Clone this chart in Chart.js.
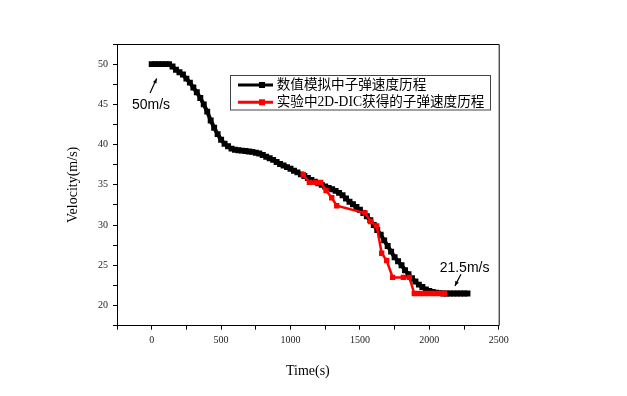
<!DOCTYPE html>
<html>
<head>
<meta charset="utf-8">
<script src="https://cdn.jsdelivr.net/npm/chart.js@4.4.1/dist/chart.umd.min.js"></script>
<style>
  body { margin: 0; background: #fff; }
  #wrap { width: 627px; height: 396px; }
</style>
</head>
<body>
<div id="wrap"><canvas id="chart1"></canvas></div>
<script>
// simulated bullet velocity
let simTime = [0,25,50,75,100,125,150,175,200,225,250,275,300,325,350,375,400,425,450,475,
  500,525,550,575,600,625,650,675,700,725,750,775,800,825,850,875,900,925,950,975,
  1000,1025,1050,1075,1100,1125,1150,1175,1200,1225,1250,1275,1300,1325,1350,1375,1400,1425,1450,1475,
  1500,1525,1550,1575,1600,1625,1650,1675,1700,1725,1750,1775,1800,1825,1850,1875,1900,1925,1950,1975,
  2000,2025,2050,2075,2100,2125,2150,2175,2200,2225,2250,2275];
let simVel = [50,50,50,50,50,50,49.7,49.3,49.0,48.7,48.2,47.7,47.1,46.5,45.8,45.0,44.1,43.0,42.1,41.3,
  40.6,40.1,39.8,39.5,39.35,39.3,39.25,39.2,39.15,39.1,39.0,38.9,38.7,38.5,38.3,38.1,37.85,37.6,37.4,37.2,
  37.0,36.75,36.55,36.3,36.1,35.85,35.6,35.4,35.2,35.0,34.8,34.6,34.45,34.25,34.0,33.7,33.3,32.9,32.6,32.25,
  31.9,31.5,31.1,30.6,30.0,29.4,28.8,28.1,27.4,26.7,26.0,25.5,25.0,24.4,23.9,23.4,23.0,22.6,22.3,22.0,
  21.8,21.7,21.6,21.55,21.5,21.5,21.5,21.5,21.5,21.5,21.5,21.5];

// 2D-DIC measured bullet velocity
let expTime = [1092,1136,1177,1217,1256,1297,1333,1537,1578,1621,1657,1693,1736,1813,1856,
  1892,1928,1964,2000,2036,2072,2108];
let expVel = [36.25,35.3,35.3,35.3,34.3,33.4,32.4,31.5,30.45,29.9,26.5,25.6,23.5,23.5,23.5,
  21.5,21.5,21.5,21.5,21.5,21.5,21.5];

let xTicks = [0, 500, 1000, 1500, 2000, 2500];
let yTicks = [20, 25, 30, 35, 40, 45, 50];

let seriesNames = ['数值模拟中子弹速度历程', '实验中2D-DIC获得的子弹速度历程'];
let seriesColors = ['#000000', '#ff0000'];

let serif = '"Liberation Serif", "Times New Roman", "Noto Sans CJK SC", serif';

function toPoints(xs, ys) {
  return xs.map((x, i) => ({ x: x, y: ys[i] }));
}

function chart1() {
  let ctx = document.getElementById('chart1').getContext('2d');
  let myChart = new Chart(ctx, {
    type: 'line',
    data: {
      datasets: [{
        label: seriesNames[0],
        data: toPoints(simTime, simVel),
        borderColor: seriesColors[0],
        backgroundColor: seriesColors[0],
        borderWidth: 4,
        pointStyle: 'rect',
        pointRadius: 4.2,
        pointBorderWidth: 0,
        tension: 0,
        order: 2
      }, {
        label: seriesNames[1],
        data: toPoints(expTime, expVel),
        borderColor: seriesColors[1],
        backgroundColor: seriesColors[1],
        borderWidth: 2.5,
        pointStyle: 'rect',
        pointRadius: 3.8,
        pointBorderWidth: 0,
        tension: 0,
        order: 1
      }]
    },
    options: {
      responsive: true,
      maintainAspectRatio: false,
      animation: false,
      scales: {
        x: {
          type: 'linear',
          min: -250,
          max: 2500,
          afterFit: (scale) => { scale.height = 70.3; },
          grid: { drawOnChartArea: false, drawTicks: true, tickLength: 4, color: '#000' },
          border: { display: true, color: '#000', width: 1 },
          ticks: {
            stepSize: 250,
            maxRotation: 0,
            autoSkip: false,
            padding: 5,
            color: '#222',
            font: { family: serif, size: 10 },
            callback: (v) => xTicks.includes(v) ? v : ''
          },
          title: {
            display: true,
            text: 'Time(s)',
            color: '#000',
            font: { family: serif, size: 14 },
            padding: { bottom: 16.6 }
          }
        },
        y: {
          type: 'linear',
          min: 17.5,
          max: 52.5,
          afterFit: (scale) => { scale.width = 117; },
          grid: { drawOnChartArea: false, drawTicks: true, tickLength: 4, color: '#000' },
          border: { display: true, color: '#000', width: 1 },
          ticks: {
            stepSize: 2.5,
            autoSkip: false,
            padding: 5,
            color: '#222',
            font: { family: serif, size: 10 },
            callback: (v) => yTicks.includes(v) ? v : ''
          },
          title: {
            display: true,
            text: 'Velocity(m/s)',
            color: '#000',
            font: { family: serif, size: 14 },
            padding: { top: 64.6 }
          }
        }
      },
      plugins: {
        legend: { display: false },
        tooltip: { enabled: false }
      },
      layout: {
        padding: { left: 0, right: 128.3, top: 44, bottom: 0 }
      }
    },
    plugins: [{
      id: 'chart1',
      beforeDraw: (chart) => {
        const ctx = chart.ctx;
        ctx.save();
        ctx.fillStyle = '#fff';
        ctx.fillRect(0, 0, chart.width, chart.height);
        ctx.restore();
      },
      afterDraw: (chart) => {
        const ctx = chart.ctx;
        const a = chart.chartArea;
        const xs = chart.scales.x;
        const ys = chart.scales.y;
        ctx.save();
        // frame top / right
        ctx.strokeStyle = '#000';
        ctx.lineWidth = 1;
        ctx.beginPath();
        ctx.moveTo(a.left, a.top + 0.5);
        ctx.lineTo(a.right + 0.5, a.top + 0.5);
        ctx.lineTo(a.right + 0.5, a.bottom);
        ctx.stroke();

        // legend
        ctx.strokeStyle = '#444';
        ctx.strokeRect(230.5, 75.5, 260, 34.5);
        const rows = [85, 102.3];
        ctx.font = '13.6px ' + serif;
        ctx.textBaseline = 'middle';
        ctx.textAlign = 'left';
        for (let i = 0; i < 2; i++) {
          ctx.strokeStyle = seriesColors[i];
          ctx.fillStyle = seriesColors[i];
          ctx.lineWidth = 3;
          ctx.beginPath();
          ctx.moveTo(238, rows[i]);
          ctx.lineTo(273, rows[i]);
          ctx.stroke();
          ctx.fillRect(259, rows[i] - 3, 6, 6);
          ctx.fillStyle = '#000';
          ctx.fillText(seriesNames[i], 276.7, rows[i] + 0.5);
        }

        // annotations
        ctx.font = '14px "Liberation Sans", Arial, sans-serif';
        ctx.textAlign = 'center';
        ctx.fillStyle = '#000';
        ctx.fillText('50m/s', xs.getPixelForValue(-5), ys.getPixelForValue(44.9));
        ctx.fillText('21.5m/s', xs.getPixelForValue(2254), ys.getPixelForValue(24.6));
        const arrow = (x1, y1, x2, y2) => {
          const px1 = xs.getPixelForValue(x1), py1 = ys.getPixelForValue(y1);
          const px2 = xs.getPixelForValue(x2), py2 = ys.getPixelForValue(y2);
          const ang = Math.atan2(py2 - py1, px2 - px1);
          ctx.strokeStyle = '#000';
          ctx.lineWidth = 1.2;
          ctx.beginPath();
          ctx.moveTo(px1, py1);
          ctx.lineTo(px2, py2);
          ctx.stroke();
          ctx.beginPath();
          ctx.moveTo(px2, py2);
          ctx.lineTo(px2 - 5 * Math.cos(ang - 0.4), py2 - 5 * Math.sin(ang - 0.4));
          ctx.lineTo(px2 - 5 * Math.cos(ang + 0.4), py2 - 5 * Math.sin(ang + 0.4));
          ctx.closePath();
          ctx.fill();
        };
        arrow(-12, 46.4, 36, 48.2);
        arrow(2228, 23.9, 2185, 22.45);
        ctx.restore();
      }
    }]
  });
}

chart1();
</script>
</body>
</html>
